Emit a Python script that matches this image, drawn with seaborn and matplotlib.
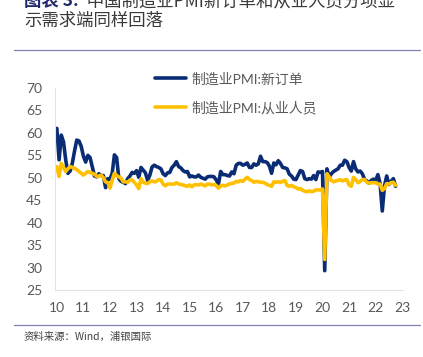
import numpy as np
import pandas as pd
import seaborn as sns
import matplotlib.pyplot as plt
from matplotlib.lines import Line2D

# monthly data, Jan 2010 - Oct 2022
start_month = "2010-01"
new_orders = [
    61.0, 54.0, 59.5, 58.0, 54.0, 51.0, 51.5, 53.3, 56.0, 58.4, 58.2, 57.0,  # 2010
    54.8, 53.5, 55.0, 54.5, 52.5, 50.4, 50.2, 50.9, 50.5, 50.5, 47.8, 49.8,  # 2011
    49.7, 51.0, 55.1, 54.5, 49.8, 49.2, 49.0, 48.7, 49.8, 50.4, 51.2, 51.0,  # 2012
    51.6, 50.1, 52.3, 51.7, 51.1, 49.4, 50.6, 52.4, 52.8, 52.5, 52.3, 52.0,  # 2013
    50.9, 50.5, 51.1, 51.2, 52.3, 52.8, 53.6, 52.5, 52.2, 51.6, 51.3, 51.4,  # 2014
    50.2, 50.4, 50.2, 50.2, 50.6, 50.1, 49.9, 49.7, 50.2, 50.3, 50.3, 50.2,  # 2015
    49.5, 48.6, 51.4, 50.7, 50.7, 50.5, 50.4, 51.3, 50.9, 52.8, 53.2, 53.2,  # 2016
    52.8, 53.0, 53.3, 52.3, 52.3, 53.1, 52.8, 53.1, 54.8, 53.6, 53.6, 53.4,  # 2017
    52.6, 51.0, 53.3, 52.9, 53.8, 53.2, 52.3, 52.2, 52.0, 50.8, 50.4, 49.7,  # 2018
    49.6, 50.6, 51.6, 51.4, 49.8, 49.6, 49.8, 49.7, 50.5, 49.6, 51.3, 51.2,  # 2019
    51.4, 29.3, 52.0, 50.2, 50.9, 51.4, 51.7, 52.0, 52.8, 52.8, 53.9, 53.6,  # 2020
    52.3, 51.5, 53.6, 52.0, 51.3, 51.5, 50.9, 49.6, 49.3, 48.8, 49.4, 49.7,  # 2021
    49.3, 50.7, 48.8, 42.6, 48.2, 50.4, 48.5, 49.2, 49.8, 48.1,              # 2022
]
employment = [
    52.5, 50.3, 53.2, 52.3, 51.4, 52.0, 52.5, 52.3, 52.1, 51.8, 51.4, 51.0,  # 2010
    50.6, 51.0, 51.4, 51.2, 51.0, 50.8, 50.3, 50.4, 50.6, 50.0, 49.1, 48.9,  # 2011
    47.7, 49.5, 51.0, 50.5, 50.2, 49.9, 49.1, 49.1, 49.0, 49.5, 49.5, 49.0,  # 2012
    48.4, 47.6, 49.8, 49.0, 48.8, 48.7, 49.1, 49.3, 49.1, 49.2, 49.6, 49.5,  # 2013
    48.6, 48.2, 48.6, 48.6, 48.6, 48.6, 48.9, 48.6, 48.5, 48.4, 48.2, 48.1,  # 2014
    48.4, 48.0, 48.4, 48.5, 48.4, 48.6, 48.4, 48.2, 48.6, 48.6, 48.4, 48.5,  # 2015
    48.3, 47.7, 48.2, 48.3, 48.2, 48.4, 48.6, 48.8, 48.8, 49.2, 49.1, 49.4,  # 2016
    49.2, 49.7, 50.1, 49.6, 49.4, 49.0, 49.2, 49.1, 49.0, 49.0, 48.8, 48.5,  # 2017
    48.3, 48.1, 49.1, 49.0, 49.1, 49.0, 49.2, 49.4, 48.3, 48.1, 48.3, 48.0,  # 2018
    47.8, 47.5, 47.6, 47.2, 47.0, 46.9, 47.1, 46.9, 47.0, 47.3, 47.3, 47.3,  # 2019
    47.5, 31.8, 50.9, 50.2, 49.4, 49.1, 49.3, 49.4, 49.6, 49.3, 49.5, 49.6,  # 2020
    48.4, 48.1, 50.1, 49.6, 48.9, 49.2, 49.6, 49.6, 49.0, 48.8, 48.9, 48.9,  # 2021
    48.9, 48.6, 48.6, 47.2, 47.6, 48.7, 48.6, 48.9, 49.0, 48.3,              # 2022
]
series_names = ["制造业PMI:新订单", "制造业PMI:从业人员"]
series_colors = ["#0A2C74", "#FFC000"]
year_ticks = list(range(2010, 2024))
year_labels = [str(y)[2:] for y in year_ticks]
y_ticks = list(range(25, 75, 5))

dates = pd.period_range(start_month, periods=len(new_orders), freq="M")
df = pd.DataFrame({"x": dates.year + (dates.month - 1) / 12,
                   series_names[0]: new_orders,
                   series_names[1]: employment})
long = df.melt(id_vars="x", var_name="series", value_name="value")

sns.set_theme(style="white")
plt.rcParams["font.family"] = ["Lato", "Noto Sans CJK SC", "DejaVu Sans"]
cjk = ["Noto Sans CJK SC", "DejaVu Sans"]

W, H = 423, 357
fig = plt.figure(figsize=(W / 100, H / 100), dpi=100)
ax = fig.add_axes([55 / W, 1 - 290 / H, (403 - 55) / W, (290 - 88) / H])

sns.lineplot(data=long, x="x", y="value", hue="series", hue_order=series_names,
             palette=series_colors, linewidth=2.6, estimator=None,
             legend=False, ax=ax)

ax.set_xlim(2009.93, 2023.03)
ax.set_ylim(25, 70)
ax.set_xticks(year_ticks, year_labels)
ax.set_yticks(y_ticks)
ax.set_xlabel("")
ax.set_ylabel("")
ax.tick_params(axis="both", length=0, labelsize=10, colors="#595959")
ax.tick_params(axis="x", pad=8.5)
ax.tick_params(axis="y", pad=9)
for s in ["top", "right"]:
    ax.spines[s].set_visible(False)
for s in ["left", "bottom"]:
    ax.spines[s].set_color("#E3E3E3")
    ax.spines[s].set_linewidth(0.8)

handles = [Line2D([], [], color=c, lw=2.6) for c in series_colors]
leg = ax.legend(handles, series_names, loc="upper left",
                bbox_to_anchor=(155 / W, 1 - 72 / H), bbox_transform=fig.transFigure,
                frameon=False, fontsize=10, handlelength=2.2, handletextpad=0.4,
                labelspacing=1.1, borderpad=0, borderaxespad=0)
for t in leg.get_texts():
    t.set_color("#595959")

# title, first line cut off at the top like the source
t1 = fig.text(24 / W, 1 - 1 / H, "图表 3:", fontsize=12.5, fontweight="bold",
              color="#1F2A6B", va="center", ha="left", family=cjk)
ax.annotate("  中国制造业PMI新订单和从业人员分项显", xy=(1, 0.5), xycoords=t1,
            va="center", ha="left", fontsize=12.5, color="#3A3A3A",
            family=cjk, annotation_clip=False)
fig.text(24 / W, 1 - 20.5 / H, "示需求端同样回落", fontsize=12.5, color="#3A3A3A",
         va="center", ha="left", family=cjk)

for yy in [50, 325]:
    fig.add_artist(Line2D([14 / W, 420 / W], [1 - yy / H, 1 - yy / H],
                          color="#8080B8", lw=0.9, transform=fig.transFigure))

fig.text(24 / W, 1 - 337 / H, "资料来源：Wind，浦银国际", fontsize=7.5, color="#404040",
         va="center", ha="left", family=cjk)

fig.savefig("out.png", dpi=100)
